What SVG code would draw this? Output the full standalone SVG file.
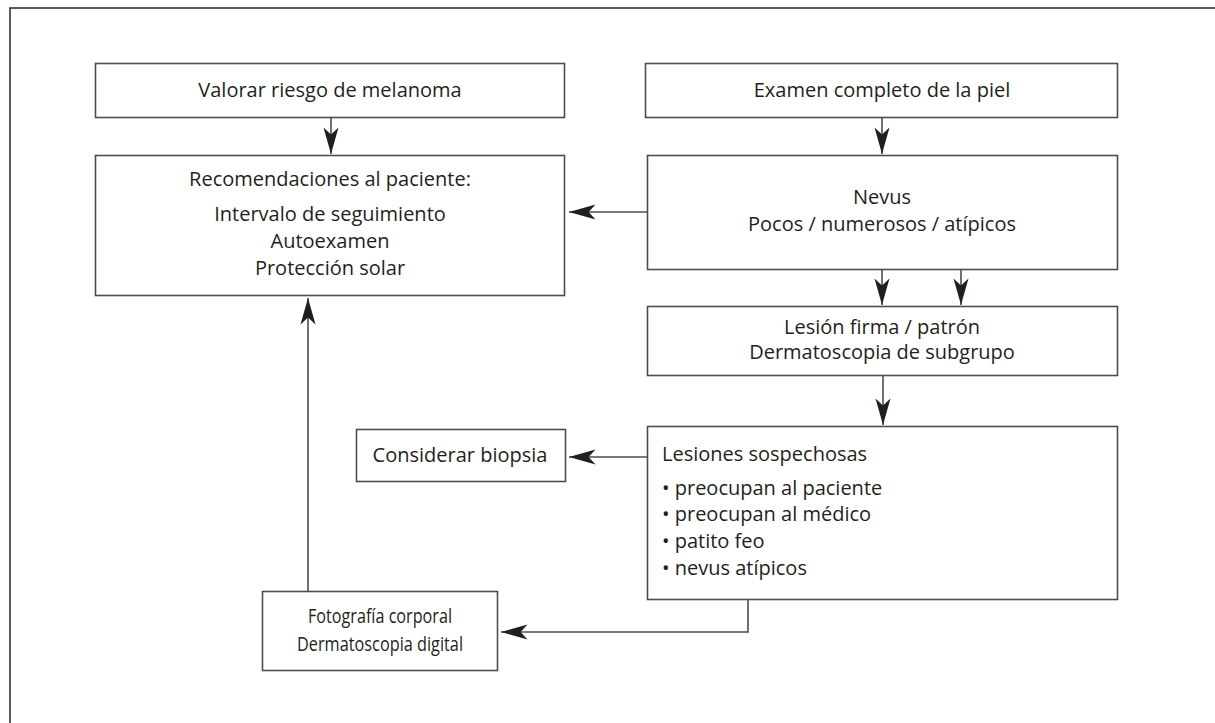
<svg xmlns="http://www.w3.org/2000/svg" width="1215" height="723" viewBox="0 0 1215 723">
<defs>
<style>
.box{fill:#fff;stroke:#4d4d4d;stroke-width:1.6}
.t{font-family:"Open Sans","Noto Sans",sans-serif;font-size:20px;fill:#231f20;text-anchor:middle}
.tl{text-anchor:start}
.cond{font-size:20.5px}
.c{fill:none;stroke:#4d4d4d;stroke-width:1.6}
</style>
<marker id="ah" markerUnits="userSpaceOnUse" markerWidth="30" markerHeight="20" viewBox="-24 -8 26 16" refX="0" refY="0" orient="auto">
<path d="M0,0 L-23,-6.5 L-17,0 L-23,6.5 Z" fill="#231f20"/>
</marker>
</defs>
<rect x="10" y="8" width="1230" height="740" fill="none" stroke="#333" stroke-width="1.6"/>

<g id="valorar"><rect class="box" x="95.5" y="63.5" width="469" height="54"/><text class="t" x="330" y="97">Valorar riesgo de melanoma</text></g>
<g id="examen"><rect class="box" x="645.5" y="63.5" width="472" height="54"/><text class="t" x="882" y="97">Examen completo de la piel</text></g>
<g id="recomendaciones"><rect class="box" x="95.5" y="155.5" width="469" height="140"/>
<text class="t" x="330" y="186">Recomendaciones al paciente:</text>
<text class="t" x="330" y="221">Intervalo de seguimiento</text>
<text class="t" x="330" y="248">Autoexamen</text>
<text class="t" x="330" y="275">Protección solar</text></g>
<g id="nevus"><rect class="box" x="647.5" y="155.5" width="470" height="114"/>
<text class="t" x="882" y="204">Nevus</text>
<text class="t" x="882" y="231">Pocos / numerosos / atípicos</text></g>
<g id="lesion"><rect class="box" x="647.5" y="306.5" width="470" height="69"/>
<text class="t" x="882" y="334">Lesión firma / patrón</text>
<text class="t" x="882" y="359">Dermatoscopia de subgrupo</text></g>
<g id="biopsia"><rect class="box" x="356.5" y="429.5" width="209" height="52"/>
<text class="t" x="460" y="462">Considerar biopsia</text></g>
<g id="sospechosas"><rect class="box" x="647.5" y="426.5" width="470" height="173"/>
<text class="t tl" x="662" y="461">Lesiones sospechosas</text>
<text class="t tl" x="662" y="495">• preocupan al paciente</text>
<text class="t tl" x="662" y="521">• preocupan al médico</text>
<text class="t tl" x="662" y="548">• patito feo</text>
<text class="t tl" x="662" y="575">• nevus atípicos</text></g>
<g id="fotografia"><rect class="box" x="262.5" y="591.5" width="235" height="79"/>
<text class="t cond" x="380" y="623" textLength="144" lengthAdjust="spacingAndGlyphs">Fotografía corporal</text>
<text class="t cond" x="380" y="651" textLength="166" lengthAdjust="spacingAndGlyphs">Dermatoscopia digital</text></g>

<g id="connectors">
<path class="c" d="M331,118 V154" marker-end="url(#ah)"/>
<path class="c" d="M882,118 V154" marker-end="url(#ah)"/>
<path class="c" d="M647,212 H569" marker-end="url(#ah)"/>
<path class="c" d="M882,270 V305" marker-end="url(#ah)"/>
<path class="c" d="M961,270 V305" marker-end="url(#ah)"/>
<path class="c" d="M883,376 V425" marker-end="url(#ah)"/>
<path class="c" d="M647,457 H569" marker-end="url(#ah)"/>
<path class="c" d="M748,600 V632 H501" marker-end="url(#ah)"/>
<path class="c" d="M308,591 V298" marker-end="url(#ah)"/>
</g>
</svg>
